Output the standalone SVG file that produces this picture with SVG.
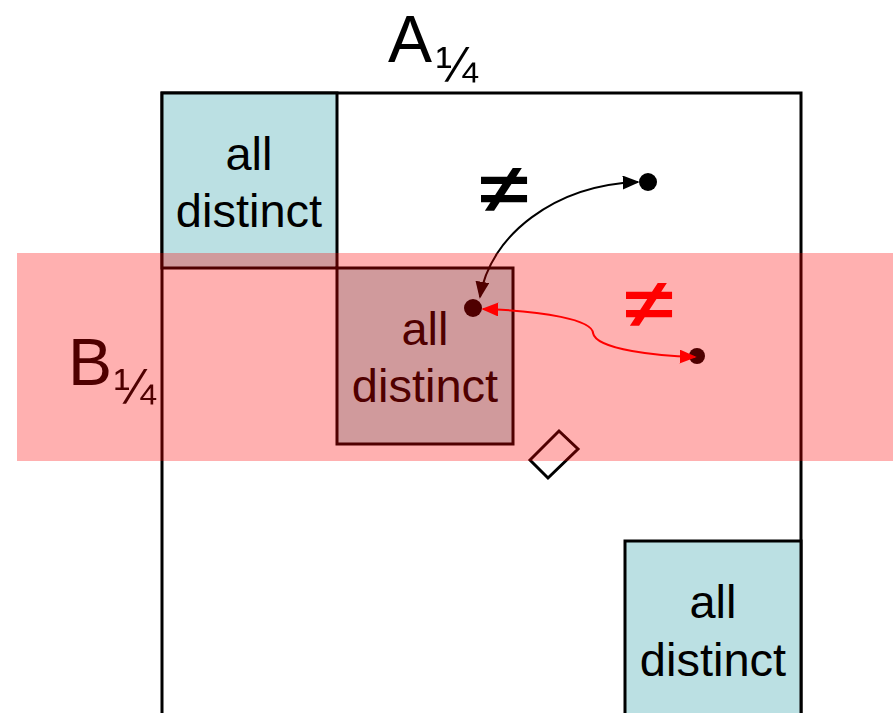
<svg xmlns="http://www.w3.org/2000/svg" width="893" height="713" viewBox="0 0 893 713">
<style>
.sq{fill:#bbe0e3;stroke:#000;stroke-width:3}
.lbl{font-family:"Liberation Sans",Arial,sans-serif;font-size:47px;fill:#000;text-anchor:middle}
.big{font-family:"Liberation Sans",Arial,sans-serif;fill:#000}
.ne{font-family:"Liberation Sans",Arial,sans-serif;font-size:68px;font-weight:bold;text-anchor:middle}
</style>
<defs>
<marker id="ab" viewBox="0 0 10 10" refX="9" refY="5" markerWidth="17" markerHeight="14" orient="auto-start-reverse" markerUnits="userSpaceOnUse" preserveAspectRatio="none">
<path d="M0,0 L10,5 L0,10 z" fill="#000"/>
</marker>
<marker id="ar" viewBox="0 0 10 10" refX="9" refY="5" markerWidth="17" markerHeight="14" orient="auto-start-reverse" markerUnits="userSpaceOnUse" preserveAspectRatio="none">
<path d="M0,0 L10,5 L0,10 z" fill="#f00"/>
</marker>
</defs>
<rect width="893" height="713" fill="#fff"/>
<g id="frameA">
<path d="M162,713 V93 H801 V713" fill="none" stroke="#000" stroke-width="3"/>
</g>
<g id="labelA"><text class="big" x="388" y="62" font-size="66">A</text><text class="big" x="436" y="82" font-size="50">¼</text></g>
<g id="labelB"><text class="big" x="68" y="385" font-size="66">B</text><text class="big" x="114" y="404" font-size="50">¼</text></g>
<g id="sq1"><rect class="sq" x="162" y="93" width="175" height="175"/><text class="lbl" x="249" y="170">all</text><text class="lbl" x="249" y="227">distinct</text></g>
<g id="sq2"><rect class="sq" x="337" y="268" width="176" height="176"/><text class="lbl" x="425" y="345">all</text><text class="lbl" x="425" y="402">distinct</text></g>
<g id="sq3"><rect class="sq" x="625" y="541" width="176" height="190"/><text class="lbl" x="713" y="618">all</text><text class="lbl" x="713" y="676">distinct</text></g>
<g id="diamond"><polygon points="530,460 559,431 578,449 548,478" fill="none" stroke="#000" stroke-width="3"/></g>
<g id="p1"><circle cx="648" cy="182" r="9" fill="#000"/></g>
<g id="p2"><circle cx="473" cy="308" r="9" fill="#000"/></g>
<g id="p3"><circle cx="697" cy="356" r="8" fill="#000"/></g>
<g id="connectors-black">
<path d="M480,297 C490,235 555,185 638,182" fill="none" stroke="#000" stroke-width="2" marker-start="url(#ab)" marker-end="url(#ab)"/>
<text class="ne" transform="translate(504,212) scale(1.3,1)" fill="#000">≠</text>
</g>
<rect id="bandB" x="17" y="253" width="876" height="208" fill="#f00" fill-opacity="0.31"/>
<g id="connectors-red">
<path d="M483,309 C545,311 592,320 593,333 C596,350 660,356 695,357" fill="none" stroke="#f00" stroke-width="2" marker-start="url(#ar)" marker-end="url(#ar)"/>
<text class="ne" transform="translate(649,327) scale(1.3,1)" fill="#f00">≠</text>
</g>
</svg>
